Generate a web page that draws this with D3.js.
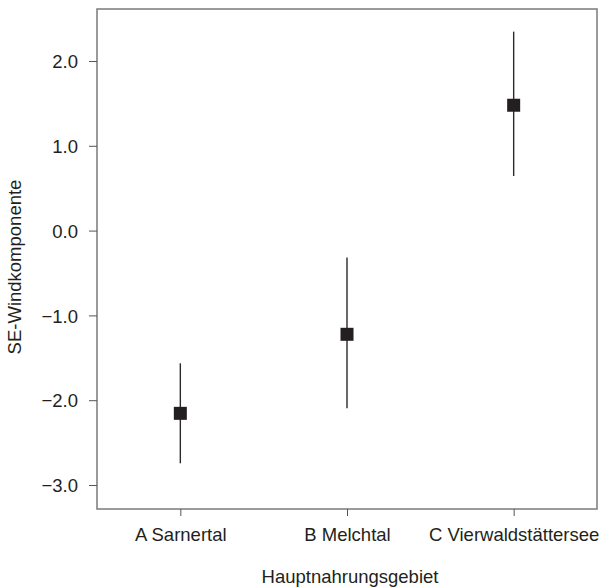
<!doctype html>
<html>
<head>
<meta charset="utf-8">
<script src="https://cdnjs.cloudflare.com/ajax/libs/d3/7.8.5/d3.min.js"></script>
<style>
body { margin: 0; background: #fff; }
svg { display: block; }
text { font-family: "Liberation Sans", Arial, sans-serif; font-size: 18.5px; fill: #231f20; }
.frame { fill: none; stroke: #7a7a7a; stroke-width: 1.5px; }
.tick line { stroke: #555; stroke-width: 1px; }
.err { stroke: #2a2a2a; stroke-width: 1.4px; }
.mean { fill: #231f20; }
</style>
</head>
<body>
<svg width="606" height="588"></svg>
<script>
var categories = ["A Sarnertal", "B Melchtal", "C Vierwaldstättersee"];
var means = [-2.155, -1.223, 1.478];
var errLow = [-2.744, -2.096, 0.644];
var errHigh = [-1.565, -0.316, 2.346];
var yTicks = [-3, -2, -1, 0, 1, 2];

var svg = d3.select("svg");
var mLeft = 97, mRight = 597, mTop = 9, mBottom = 509;

var x = d3.scalePoint().domain(categories).range([mLeft, mRight]).padding(0.5);
var y = d3.scaleLinear().domain([-3.283, 2.613]).range([mBottom, mTop]);

svg.append("rect")
  .attr("class", "frame")
  .attr("x", mLeft).attr("y", mTop)
  .attr("width", mRight - mLeft).attr("height", mBottom - mTop);

var yAxis = svg.append("g")
  .attr("class", "axis")
  .attr("transform", "translate(" + mLeft + ",0)")
  .call(d3.axisLeft(y).tickValues(yTicks).tickSize(8).tickPadding(11).tickFormat(d3.format(".1f")));
yAxis.select(".domain").remove();
yAxis.selectAll("text").attr("font-size", null).attr("font-family", null).attr("dy", "0.36em");

var xAxis = svg.append("g")
  .attr("class", "axis")
  .attr("transform", "translate(0," + mBottom + ")")
  .call(d3.axisBottom(x).tickSize(7).tickPadding(0));
xAxis.select(".domain").remove();
xAxis.selectAll("text").attr("font-size", null).attr("font-family", null).attr("dy", null).attr("y", 32);

var rows = categories.map(function (c, i) {
  return {cat: c, mean: means[i], lo: errLow[i], hi: errHigh[i]};
});

svg.append("g").selectAll("line")
  .data(rows).enter().append("line")
  .attr("class", "err")
  .attr("x1", d => x(d.cat)).attr("x2", d => x(d.cat))
  .attr("y1", d => y(d.hi)).attr("y2", d => y(d.lo));

var s = 13;
svg.append("g").selectAll("rect")
  .data(rows).enter().append("rect")
  .attr("class", "mean")
  .attr("x", d => x(d.cat) - s / 2)
  .attr("y", d => y(d.mean) - s / 2)
  .attr("width", s).attr("height", s);

svg.append("text")
  .attr("x", 350)
  .attr("y", 583)
  .attr("text-anchor", "middle")
  .text("Hauptnahrungsgebiet");

svg.append("text")
  .attr("transform", "translate(21,267) rotate(-90)")
  .attr("text-anchor", "middle")
  .text("SE-Windkomponente");
</script>
</body>
</html>
